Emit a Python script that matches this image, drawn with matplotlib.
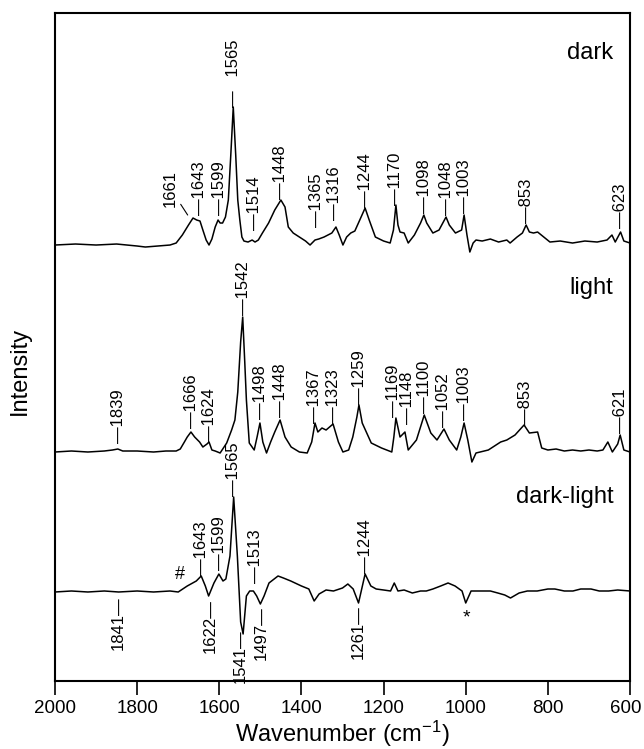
import matplotlib
matplotlib.use("Agg")
import matplotlib.pyplot as plt
from matplotlib.transforms import ScaledTranslation

plt.rcParams["font.family"] = ["Liberation Sans", "DejaVu Sans"]
plt.rcParams["mathtext.default"] = "regular"

# traced spectra: (wavenumber, intensity above own baseline), arbitrary units
dark = [
    (2000, 0), (1950, 1), (1900, 0), (1850, 1), (1800, -1), (1780, -2), (1750, -1),
    (1720, 0), (1705, 2), (1690, 10), (1675, 20), (1664, 27), (1655, 25), (1647, 24),
    (1640, 15), (1632, 5), (1625, 0), (1618, 6), (1610, 18), (1603, 25), (1598, 22),
    (1592, 22), (1585, 28), (1578, 45), (1572, 90), (1566, 138), (1560, 90), (1555, 45),
    (1550, 25), (1545, 8), (1540, 4), (1530, 3), (1520, 5), (1513, 3), (1505, 5),
    (1495, 12), (1480, 22), (1465, 35), (1450, 45), (1440, 38), (1432, 18), (1420, 12),
    (1405, 8), (1390, 4), (1379, 0), (1367, 5), (1358, 6), (1345, 8), (1326, 12),
    (1316, 18), (1308, 10), (1299, 0), (1290, 8), (1280, 12), (1270, 14), (1258, 25),
    (1245, 37), (1235, 25), (1220, 8), (1200, 4), (1184, 2), (1176, 15), (1170, 40),
    (1165, 20), (1160, 13), (1150, 12), (1140, 2), (1125, 10), (1110, 22), (1102, 30),
    (1095, 22), (1080, 12), (1065, 15), (1048, 28), (1040, 20), (1025, 12), (1010, 15),
    (1004, 30), (997, 10), (990, -7), (982, 2), (975, 5), (960, 4), (940, 6), (920, 3),
    (900, 5), (892, 2), (875, 8), (862, 12), (853, 20), (845, 13), (835, 12), (825, 13),
    (810, 8), (795, 3), (770, 4), (740, 2), (710, 4), (680, 3), (656, 5), (644, 10),
    (636, 3), (623, 13), (615, 4), (600, 2),
]

light = [
    (2000, 0), (1960, 1), (1920, 0), (1880, 1), (1860, 2), (1847, 3), (1835, 1),
    (1800, 1), (1760, 0), (1730, 1), (1705, 1), (1695, 3), (1685, 10), (1678, 15),
    (1669, 20), (1660, 15), (1648, 10), (1640, 5), (1630, 8), (1625, 10), (1618, 2),
    (1610, 1), (1598, -1), (1582, 9), (1570, 22), (1562, 32), (1555, 60), (1548, 110),
    (1543, 135), (1538, 90), (1534, 52), (1527, 9), (1515, 2), (1508, 15), (1501, 29),
    (1494, 10), (1485, -1), (1475, 10), (1465, 20), (1452, 32), (1440, 15), (1425, 5),
    (1405, 0), (1386, -1), (1375, 10), (1367, 29), (1360, 20), (1350, 24), (1340, 22),
    (1323, 28), (1310, 10), (1299, 0), (1285, 2), (1275, 15), (1265, 35), (1260, 47),
    (1252, 29), (1230, 9), (1205, 4), (1180, 0), (1175, 15), (1170, 34), (1160, 15),
    (1148, 20), (1140, 2), (1120, 12), (1101, 37), (1085, 19), (1070, 12), (1053, 23),
    (1040, 12), (1022, 2), (1012, 15), (1004, 29), (995, 12), (985, -10), (975, -1),
    (945, 2), (915, 10), (900, 12), (880, 17), (858, 27), (845, 19), (825, 20),
    (815, 4), (800, 2), (780, 3), (760, 1), (740, 2), (720, 1), (700, 2), (680, 1),
    (666, 2), (654, 10), (643, 0), (630, 8), (624, 17), (615, 2), (600, 0),
]

diff = [
    (2000, 0), (1960, 1), (1920, 0), (1880, 1), (1845, 0), (1800, 1), (1760, 0),
    (1720, 1), (1700, 0), (1678, 6), (1656, 11), (1644, 16), (1634, 6), (1626, -4),
    (1613, 9), (1601, 18), (1591, 11), (1584, 13), (1574, 36), (1565, 95), (1556, 36),
    (1548, -30), (1542, -42), (1534, -4), (1526, 1), (1517, 1), (1509, -4), (1500, -12),
    (1491, -4), (1479, 9), (1457, 16), (1444, 14), (1426, 11), (1400, 6), (1382, 3),
    (1369, -9), (1357, -2), (1340, 2), (1322, 1), (1300, 4), (1287, 8), (1274, 3),
    (1261, -11), (1245, 18), (1231, 6), (1218, 3), (1200, 2), (1183, 1), (1174, 9),
    (1165, 1), (1150, 2), (1130, -1), (1110, 1), (1096, 1), (1080, 3), (1061, 6),
    (1043, 9), (1026, 6), (1009, 1), (1000, -11), (987, 1), (957, 1), (940, 1),
    (922, -1), (905, -3), (891, -6), (870, -1), (850, 1), (826, 1), (800, 3), (783, 3),
    (760, 1), (739, 1), (720, 3), (695, 3), (675, 1), (652, 1), (630, 2), (600, 1),
]

offsets = {"dark": 436, "light": 229, "dark-light": 89}
name_heights = {"dark": 192, "light": 164, "dark-light": 95}

# peak labels: (wavenumber, height of label foot, text)
dark_labels = [
    (1647, 30, "1643"), (1599, 30, "1599"), (1565, 138, "1565"), (1514, 15, "1514"),
    (1450, 46, "1448"), (1364, 18, "1365"), (1320, 25, "1316"), (1245, 38, "1244"),
    (1170, 40, "1170"), (1100, 32, "1098"), (1048, 30, "1048"), (1003, 32, "1003"),
    (853, 22, "853"), (623, 17, "623"),
]
light_labels = [
    (1845, 9, "1839"), (1668, 24, "1666"), (1624, 10, "1624"), (1542, 137, "1542"),
    (1500, 33, "1498"), (1450, 35, "1448"), (1367, 29, "1367"), (1323, 29, "1323"),
    (1259, 48, "1259"), (1176, 35, "1169"), (1141, 28, "1148"), (1101, 39, "1100"),
    (1053, 25, "1052"), (1004, 32, "1003"), (855, 27, "853"), (622, 19, "621"),
]
diff_up = [
    (1643, 17, "1643"), (1599, 22, "1599"), (1565, 96, "1565"), (1513, 9, "1513"),
    (1244, 19, "1244"),
]
diff_down = [
    (1845, -4, "1841"), (1623, -7, "1622"), (1548, -37, "1541"), (1498, -14, "1497"),
    (1261, -13, "1261"),
]

fig = plt.figure(figsize=(6.44, 7.49), dpi=100)
ax = fig.add_axes([0.0854, 0.0908, 0.8929, 0.8918])

for name, spec in (("dark", dark), ("light", light), ("dark-light", diff)):
    off = offsets[name]
    ax.plot([p[0] for p in spec], [p[1] + off for p in spec], color="black", lw=1.1)
    ax.text(640, off + name_heights[name], name, fontsize=17, ha="right", va="center")

fs = 12
dash = "\u2014"


def up_labels(labels, off, gap=()):
    for w, h, t in labels:
        s = dash + ("   " if t in gap else "") + t
        ax.text(w, off + h, s, rotation=90, ha="center", va="bottom", fontsize=fs)


up_labels(dark_labels, offsets["dark"], gap=("1565",))
up_labels(light_labels, offsets["light"])
up_labels(diff_up, offsets["dark-light"])
for w, h, t in diff_down:
    ax.text(w, offsets["dark-light"] + h, t + dash, rotation=90, ha="center",
            va="top", fontsize=fs)

ax.annotate("1661", xy=(1677, offsets["dark"] + 30), xytext=(1719, offsets["dark"] + 38),
            rotation=90, ha="center", va="bottom", fontsize=fs,
            arrowprops=dict(arrowstyle="-", lw=0.8, shrinkA=0, shrinkB=0))
ax.text(1696, offsets["dark-light"] + 17, "#", fontsize=13, ha="center", va="center")
ax.text(999, offsets["dark-light"] - 26, "*", fontsize=14, ha="center", va="center")

ax.set_xlim(2000, 600)
ax.set_ylim(0, 668)
ax.set_yticks([])
ax.set_xticks(range(2000, 599, -200))
ax.tick_params(axis="x", direction="out", length=10, width=1.2, labelsize=13.5, pad=4)
for sp in ax.spines.values():
    sp.set_linewidth(1.5)
ax.set_xlabel("Wavenumber (cm$^{-1}$)", fontsize=17, labelpad=1)
fig.text(20 / 644, 1 - 371 / 749, "Intensity", rotation=90, fontsize=17,
         ha="center", va="center")

# keep the last tick label inside the canvas
last = ax.get_xticklabels()[-1]
last.set_transform(last.get_transform() + ScaledTranslation(-4 / 100, 0, fig.dpi_scale_trans))

fig.savefig("out.png", dpi=100)
